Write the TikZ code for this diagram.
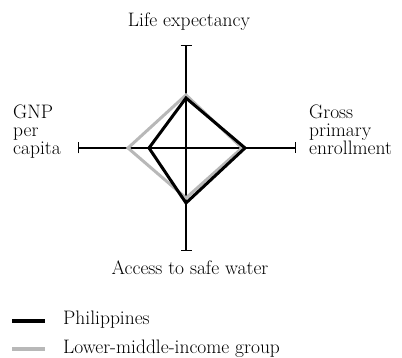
\documentclass[tikz,border=0pt]{standalone}
\usepackage{tikz}
\usetikzlibrary{arrows.meta}
\definecolor{lmigray}{gray}{0.72}

\begin{document}
\begin{tikzpicture}[x=1pt,y=-1pt,
    lbl/.style={inner sep=0pt, font=\fontsize{19.5}{18}\selectfont},
    axis/.style={line width=1.1pt, {Bar[width=11pt,line width=1.1pt]}-{Bar[width=11pt,line width=1.1pt]}},
    phl/.style={line width=3pt, black, line join=miter},
    lmi/.style={line width=3pt, lmigray, line join=miter}]
        \useasboundingbox (0,0) rectangle (402,358);

        % centre and axis ends
        \coordinate (c) at (186,148);
        \coordinate (top) at (186,45);
        \coordinate (bot) at (186,251);
        \coordinate (lft) at (78,148);
        \coordinate (rgt) at (296,148);

        \draw[axis] (top) -- (bot);
        \draw[axis] (lft) -- (rgt);

        % lower-middle-income group
        \coordinate (g1) at (186,95);
        \coordinate (g2) at (242,148);
        \coordinate (g3) at (186,198);
        \coordinate (g4) at (128,148);
        \draw[lmi] (g1) -- (g2) -- (g3) -- (g4) -- cycle;

        % Philippines
        \coordinate (p1) at (186,98);
        \coordinate (p2) at (245,148);
        \coordinate (p3) at (186,203);
        \coordinate (p4) at (149,148);
        \draw[phl] (p1) -- (p2) -- (p3) -- (p4) -- cycle;

        \node[lbl, anchor=base] (life) at (189,27) {Life expectancy};
        \node[lbl, anchor=base] (water) at (190,275) {Access to safe water};
        \node[lbl, anchor=north west, align=left] (gnp) at (13,105) {GNP\\per\\capita};
        \node[lbl, anchor=north west, align=left] (gross) at (309,105) {Gross\\primary\\enrollment};

        % legend
        \coordinate (k1a) at (12,321);
        \coordinate (k1b) at (45,321);
        \coordinate (k2a) at (12,349);
        \coordinate (k2b) at (45,349);
        \draw[line width=3.5pt, black] (k1a) -- (k1b);
        \draw[line width=3.5pt, lmigray] (k2a) -- (k2b);
        \node[lbl, anchor=base west] (kphl) at (63,325) {Philippines};
        \node[lbl, anchor=base west] (klmi) at (63,353) {Lower-middle-income group};

    \end{tikzpicture}
\end{document}
